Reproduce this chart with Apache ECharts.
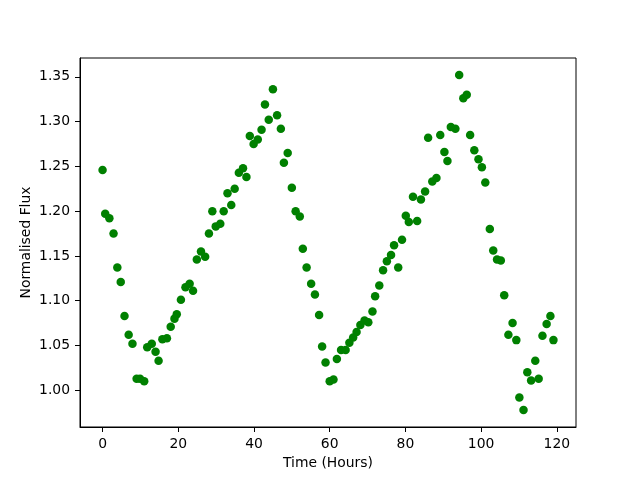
<!DOCTYPE html>
<html lang="en" style="height: 100%">

<head>
  <meta charset="utf-8">
</head>

<body style="height: 100%; margin: 0; background: #fff;">
  <div id="container" style="width: 640px; height: 480px;"></div>

  <script type="text/javascript" src="https://cdn.jsdelivr.net/npm/echarts@6/dist/echarts.min.js"></script>

  <script type="text/javascript">
    // time of each observation (hours)
    var hours = [
      0, 0.7, 1.8, 2.9, 3.9, 4.8, 5.8, 6.9, 7.9, 9.0,
      9.9, 11.0, 11.8, 13.0, 14.0, 14.8, 15.8, 17.0, 18.0, 19.0,
      19.6, 20.7, 21.9, 23.0, 23.9, 24.9, 26.0, 27.1, 28.1, 29.0,
      29.9, 31.1, 32.0, 33.0, 34.0, 34.9, 36.0, 37.1, 38.0, 38.9,
      39.9, 41.0, 42.0, 42.9, 43.9, 45.0, 46.1, 47.1, 47.9, 48.9,
      50.0, 51.0, 52.1, 52.9, 53.9, 55.1, 56.1, 57.2, 58.0, 58.9,
      60.0, 61.0, 61.9, 63.0, 64.2, 65.2, 66.2, 67.1, 68.1, 69.2,
      70.2, 71.3, 72.0, 73.1, 74.1, 75.1, 76.2, 77.0, 78.1, 79.1,
      80.1, 80.9, 82.0, 83.1, 84.1, 85.2, 86.0, 87.1, 88.2, 89.2,
      90.3, 91.1, 92.0, 93.2, 94.2, 95.3, 96.2, 97.1, 98.2, 99.3,
      100.2, 101.1, 102.3, 103.2, 104.2, 105.2, 106.1, 107.2, 108.3, 109.3,
      110.1, 111.2, 112.2, 113.2, 114.3, 115.2, 116.2, 117.3, 118.3, 119.1
    ];
    // normalised flux at each time
    var flux = [
      1.246, 1.197, 1.192, 1.175, 1.137, 1.121, 1.083, 1.062, 1.052, 1.013,
      1.013, 1.010, 1.048, 1.052, 1.043, 1.033, 1.057, 1.058, 1.071, 1.080,
      1.085, 1.101, 1.115, 1.119, 1.111, 1.146, 1.155, 1.149, 1.175, 1.200,
      1.183, 1.186, 1.200, 1.220, 1.207, 1.225, 1.243, 1.248, 1.238, 1.284,
      1.275, 1.280, 1.291, 1.319, 1.302, 1.336, 1.307, 1.292, 1.254, 1.265,
      1.226, 1.200, 1.194, 1.158, 1.137, 1.119, 1.107, 1.084, 1.049, 1.031,
      1.010, 1.012, 1.035, 1.045, 1.045, 1.053, 1.059, 1.065, 1.073, 1.078,
      1.076, 1.088, 1.105, 1.117, 1.134, 1.144, 1.151, 1.162, 1.137, 1.168,
      1.195, 1.188, 1.216, 1.189, 1.213, 1.222, 1.282, 1.233, 1.237, 1.285,
      1.266, 1.256, 1.294, 1.292, 1.352, 1.326, 1.330, 1.285, 1.268, 1.258,
      1.249, 1.232, 1.180, 1.156, 1.146, 1.145, 1.106, 1.062, 1.075, 1.056,
      0.992, 0.978, 1.020, 1.011, 1.033, 1.013, 1.061, 1.074, 1.083, 1.056
    ];
    var xTicks = [0, 20, 40, 60, 80, 100, 120];
    var yTicks = [1.00, 1.05, 1.10, 1.15, 1.20, 1.25, 1.30, 1.35];

    var points = hours.map(function (h, i) { return [h, flux[i]]; });

    var dom = document.getElementById('container');
    var myChart = echarts.init(dom, null, { renderer: 'canvas' });

    var font = 'DejaVu Sans';
    var option = {
      animation: false,
      backgroundColor: '#fff',
      textStyle: { fontFamily: font },
      grid: {
        left: 80, right: 64, top: 58, bottom: 53,
        show: true, borderColor: '#000', borderWidth: 1,
        outerBoundsMode: 'none'
      },
      xAxis: {
        type: 'value',
        min: -5.96,
        max: 125.06,
        name: 'Time (Hours)',
        nameLocation: 'middle',
        nameGap: 29,
        nameMoveOverlap: false,
        nameTextStyle: { fontFamily: font, fontSize: 13.9, color: '#000' },
        axisLine: { show: true, onZero: false, lineStyle: { color: '#000', width: 1 } },
        axisTick: { show: true, inside: false, length: 5, customValues: xTicks, lineStyle: { color: '#000' } },
        axisLabel: {
          customValues: xTicks, margin: 10, fontFamily: font, fontSize: 13.9, color: '#000',
          formatter: function (v) { return String(v); }
        },
        splitLine: { show: false }
      },
      yAxis: {
        type: 'value',
        min: 0.959,
        max: 1.371,
        name: 'Normalised Flux',
        nameLocation: 'middle',
        nameGap: 47,
        nameRotate: 90,
        nameMoveOverlap: false,
        nameTextStyle: { fontFamily: font, fontSize: 13.9, color: '#000' },
        axisLine: { show: true, onZero: false, lineStyle: { color: '#000', width: 1 } },
        axisTick: { show: true, inside: false, length: 5, customValues: yTicks, lineStyle: { color: '#000' } },
        axisLabel: {
          customValues: yTicks, margin: 10, fontFamily: font, fontSize: 13.9, color: '#000',
          formatter: function (v) { return v.toFixed(2); }
        },
        splitLine: { show: false }
      },
      series: [
        {
          type: 'scatter',
          data: points,
          symbol: 'circle',
          symbolSize: 8.5,
          itemStyle: { color: '#008000', opacity: 1 }
        }
      ]
    };
    myChart.setOption(option);
    window.addEventListener('resize', myChart.resize);
  </script>
</body>

</html>
